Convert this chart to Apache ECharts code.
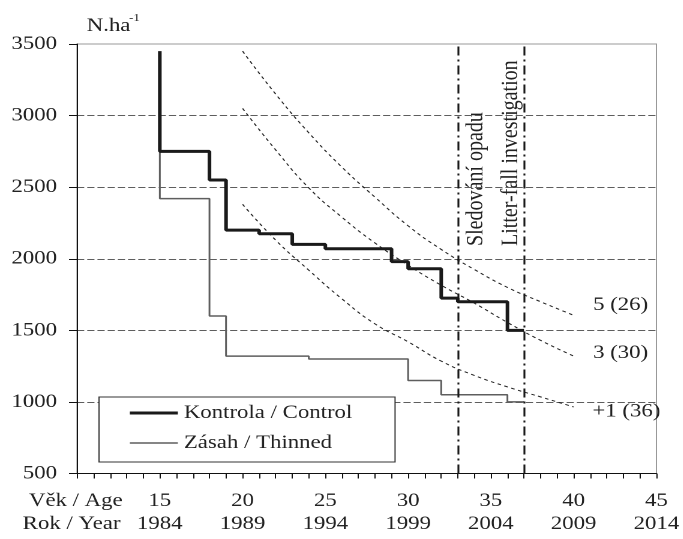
<!DOCTYPE html>
<html>
<head>
<meta charset="utf-8">
<script src="https://cdn.jsdelivr.net/npm/echarts@6/dist/echarts.min.js"></script>
<style>
  html, body { margin: 0; padding: 0; background: #fff; overflow: hidden; }
  /* the source figure is stretched sideways, so draw narrow and widen */
  #chart { width: 569.17px; height: 539px; transform: scaleX(1.2); transform-origin: 0 0; }
</style>
</head>
<body>
<div id="chart"></div>
<script>
// stem numbers, control plot (age, N/ha)
var ageCtrl = [15, 15, 18, 19, 21, 23, 25, 29, 30, 32, 33, 36, 37];
var nCtrl   = [3450, 2750, 2550, 2200, 2175, 2100, 2070, 1980, 1930, 1725, 1700, 1500, 1500];
// thinned plot
var ageThin = [15, 15, 18, 19, 24, 30, 32, 36, 37];
var nThin   = [3400, 2420, 1600, 1320, 1300, 1150, 1050, 1000, 1000];

// dashed reference curves
var curveAge = [20, 22, 24, 26, 28, 30, 32, 34, 36, 38, 40];
var curve5 = [3450, 3150, 2880, 2640, 2430, 2230, 2065, 1925, 1800, 1700, 1605];
var curve3 = [3050, 2760, 2495, 2290, 2110, 1955, 1815, 1690, 1555, 1430, 1320];
var curve1 = [2380, 2130, 1920, 1720, 1545, 1420, 1285, 1185, 1105, 1035, 965];
var curveNames = ['5 (26)', '3 (30)', '+1 (36)'];

var studyAges = [33, 37];
var studyLabels = ['Sledování opadu', 'Litter-fall investigation'];

var ageTicks  = [15, 20, 25, 30, 35, 40, 45];
var yearTicks = [1984, 1989, 1994, 1999, 2004, 2009, 2014];

var ff = 'Liberation Serif';
var ink = '#222';

function pairs(xs, ys) {
  var out = [];
  for (var i = 0; i < xs.length; i++) out.push([xs[i], ys[i]]);
  return out;
}

function curveSeries(name, vals) {
  return {
    name: name,
    type: 'line',
    data: pairs(curveAge, vals),
    smooth: true,
    symbol: 'none',
    silent: true,
    z: 2,
    lineStyle: { color: '#222', width: 1, type: [3, 3] }
  };
}

var chart = echarts.init(document.getElementById('chart'), null, { renderer: 'canvas', devicePixelRatio: 2 });

var option = {
  animation: false,
  backgroundColor: '#fff',
  textStyle: { fontFamily: ff },
  grid: {
    left: 64.2, right: 17.5, top: 44, bottom: 65.5,
    show: true, borderColor: '#999', borderWidth: 1
  },
  xAxis: {
    type: 'value',
    min: 10, max: 45, interval: 1,
    axisLine: { onZero: false, lineStyle: { color: '#111', width: 1 } },
    axisTick: { show: true, length: 5, lineStyle: { color: '#111' } },
    splitLine: { show: false },
    axisLabel: {
      margin: 16,
      formatter: function (v) {
        var i = ageTicks.indexOf(v);
        if (i < 0) return '';
        return '{a|' + ageTicks[i] + '}\n{a|' + yearTicks[i] + '}';
      },
      rich: { a: { fontSize: 19, lineHeight: 23, fontFamily: ff, color: ink } }
    }
  },
  yAxis: {
    type: 'value',
    min: 500, max: 3500, interval: 500,
    axisLine: { show: true, lineStyle: { color: '#111', width: 1 } },
    axisTick: { show: true, length: 6.7, lineStyle: { color: '#111' } },
    axisLabel: {
      margin: 16.7, fontSize: 19, fontFamily: ff, color: ink,
      formatter: function (v) { return String(v); }
    },
    splitLine: {
      show: true, showMinLine: false, showMaxLine: false,
      lineStyle: { color: '#5e5e5e', width: 1, type: [6, 2.5] }
    }
  },
  legend: {
    orient: 'vertical',
    left: 106.7, top: 403.5,
    itemWidth: 40, itemHeight: 19, itemGap: 11,
    padding: 0, z: 60,
    textStyle: { fontSize: 19, fontFamily: ff, color: ink },
    data: [
      { name: 'Kontrola / Control', lineStyle: { width: 3 }, itemStyle: { opacity: 0 } },
      { name: 'Zásah / Thinned', lineStyle: { width: 1.5 }, itemStyle: { opacity: 0 } }
    ]
  },
  graphic: [
    { type: 'rect', z: 50, shape: { x: 82.5, y: 397, width: 246.7, height: 65 },
      style: { fill: '#fff', stroke: '#333', lineWidth: 1 } },
    { type: 'text', x: 72.3, y: 26, style: { text: 'N.ha', fontSize: 19, fontFamily: ff, fill: ink, verticalAlign: 'middle' } },
    { type: 'text', x: 107.5, y: 18, style: { text: '-1', fontSize: 11, fontFamily: ff, fill: ink, verticalAlign: 'middle' } },
    { type: 'text', x: 102.2, y: 501, style: { text: 'Věk / Age', fontSize: 19, fontFamily: ff, fill: ink, align: 'right', verticalAlign: 'middle' } },
    { type: 'text', x: 100.4, y: 524, style: { text: 'Rok / Year', fontSize: 19, fontFamily: ff, fill: ink, align: 'right', verticalAlign: 'middle' } },
    { type: 'text', x: 494.2, y: 305, style: { text: curveNames[0], fontSize: 19, fontFamily: ff, fill: ink, verticalAlign: 'middle' } },
    { type: 'text', x: 494.2, y: 353, style: { text: curveNames[1], fontSize: 19, fontFamily: ff, fill: ink, verticalAlign: 'middle' } },
    { type: 'text', x: 493.7, y: 411.5, style: { text: curveNames[2], fontSize: 19, fontFamily: ff, fill: ink, verticalAlign: 'middle' } },
    { type: 'text', x: 396.7, y: 246, rotation: Math.PI / 2,
      style: { text: studyLabels[0], fontSize: 20, fontFamily: ff, fill: ink, align: 'left', verticalAlign: 'middle' } },
    { type: 'text', x: 425.8, y: 246, rotation: Math.PI / 2,
      style: { text: studyLabels[1], fontSize: 20, fontFamily: ff, fill: ink, align: 'left', verticalAlign: 'middle' } }
  ],
  series: [
    curveSeries(curveNames[0], curve5),
    curveSeries(curveNames[1], curve3),
    curveSeries(curveNames[2], curve1),
    {
      name: 'Zásah / Thinned',
      type: 'line',
      step: 'end',
      data: pairs(ageThin, nThin),
      symbol: 'none',
      z: 3,
      itemStyle: { color: '#5e5e5e' },
      lineStyle: { color: '#5e5e5e', width: 1.5 }
    },
    {
      name: 'Kontrola / Control',
      type: 'line',
      step: 'end',
      data: pairs(ageCtrl, nCtrl),
      symbol: 'none',
      z: 4,
      itemStyle: { color: '#1a1a1a' },
      lineStyle: { color: '#1a1a1a', width: 3 },
      markLine: {
        silent: true,
        symbol: ['none', 'none'],
        label: { show: false },
        lineStyle: { color: '#1a1a1a', width: 1.6, type: [9, 4, 2, 4] },
        data: studyAges.map(function (a) { return { xAxis: a }; })
      }
    }
  ]
};

chart.setOption(option);
</script>
</body>
</html>
